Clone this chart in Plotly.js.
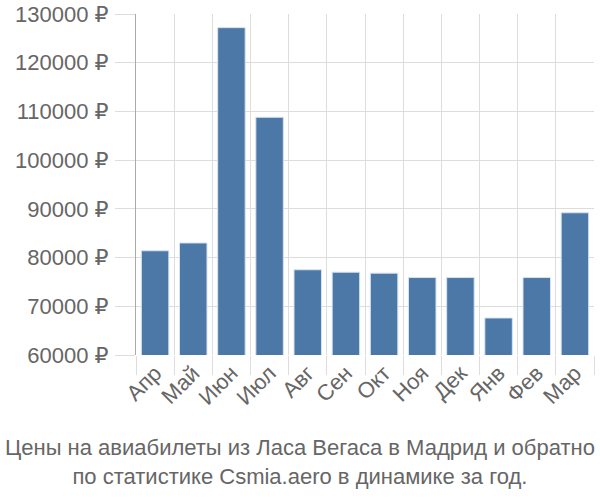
<!DOCTYPE html>
<html>
<head>
<meta charset="utf-8">
<script src="https://cdn.plot.ly/plotly-3.0.1.min.js"></script>
<style>html,body{margin:0;padding:0;background:#fff;}#chart{width:600px;height:500px;}</style>
</head>
<body>
<div id="chart"></div>
<script>
const months = ["Апр","Май","Июн","Июл","Авг","Сен","Окт","Ноя","Дек","Янв","Фев","Мар"];
const prices = [81400, 83000, 127200, 108800, 77500, 77000, 76800, 75900, 75900, 67600, 75900, 89200];
const yTicks = [60000, 70000, 80000, 90000, 100000, 110000, 120000, 130000];
const yTickLabels = yTicks.map(v => v + " ₽");
const titleLines = ["Цены на авиабилеты из Ласа Вегаса в Мадрид и обратно", "по статистике Csmia.aero в динамике за год."];

const fontFam = "Liberation Sans, Arial, DejaVu Sans, sans-serif";
const trace = {
  type: "bar",
  x: months,
  y: prices,
  base: 0,
  marker: {color: "#4c78a8", line: {color: "#d6e2ef", width: 1}},
  hoverinfo: "none"
};
const layout = {
  width: 600, height: 500,
  margin: {l: 136, r: 6, t: 14, b: 145},
  paper_bgcolor: "#fff", plot_bgcolor: "#fff",
  bargap: 0.28,
  showlegend: false,
  font: {family: fontFam, color: "#666", size: 22},
  xaxis: {
    type: "category",
    tickson: "boundaries",
    ticks: "outside", ticklen: 19, tickcolor: "#ddd", tickwidth: 1,
    showgrid: true, gridcolor: "#ddd", gridwidth: 1,
    tickangle: -45,
    tickfont: {size: 22, color: "#666"},
    showline: false, zeroline: false
  },
  yaxis: {
    range: [60000, 130000],
    tickvals: yTicks, ticktext: yTickLabels,
    ticks: "outside", ticklen: 20, tickcolor: "#ddd", tickwidth: 1,
    showgrid: true, gridcolor: "#ddd", gridwidth: 1,
    showline: true, linecolor: "#aaa", linewidth: 1,
    zeroline: false,
    tickfont: {size: 22, color: "#666"},
    ticklabelstandoff: 2
  },
  annotations: [{
    xref: "paper", yref: "paper",
    x: 0.5 - 65/458, y: 0, yshift: -136, yanchor: "bottom",
    xanchor: "center",
    text: titleLines.join("<br>"),
    showarrow: false,
    font: {size: 22, color: "#666", family: fontFam}
  }]
};
Plotly.newPlot("chart", [trace], layout, {staticPlot: true});
</script>
</body>
</html>
